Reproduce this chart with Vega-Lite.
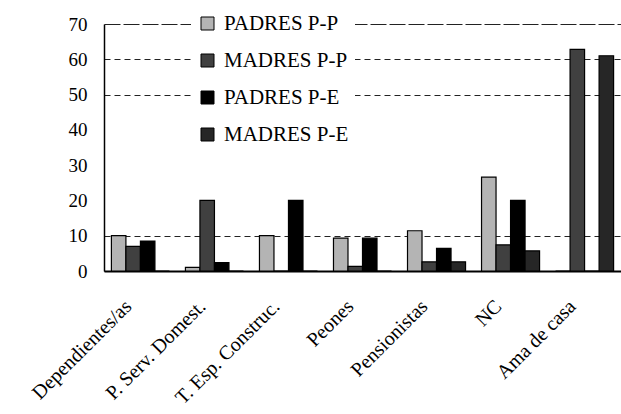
{
  "$schema": "https://vega.github.io/schema/vega-lite/v6.json",
  "width": 517,
  "height": 247,
  "autosize": {"type": "none"},
  "padding": {"left": 104, "top": 24, "right": 0, "bottom": 143},
  "background": "white",
  "config": {"view": {"stroke": null}, "font": "Liberation Serif"},
  "data": {
    "values": [
      {"cat": "Dependientes/as", "serie": "PADRES P-P", "v": 10},
      {"cat": "Dependientes/as", "serie": "MADRES P-P", "v": 7},
      {"cat": "Dependientes/as", "serie": "PADRES P-E", "v": 8.5},
      {"cat": "Dependientes/as", "serie": "MADRES P-E", "v": 0},
      {"cat": "P. Serv. Domest.", "serie": "PADRES P-P", "v": 1},
      {"cat": "P. Serv. Domest.", "serie": "MADRES P-P", "v": 20},
      {"cat": "P. Serv. Domest.", "serie": "PADRES P-E", "v": 2.4},
      {"cat": "P. Serv. Domest.", "serie": "MADRES P-E", "v": 0},
      {"cat": "T. Esp. Construc.", "serie": "PADRES P-P", "v": 10},
      {"cat": "T. Esp. Construc.", "serie": "MADRES P-P", "v": 0},
      {"cat": "T. Esp. Construc.", "serie": "PADRES P-E", "v": 20},
      {"cat": "T. Esp. Construc.", "serie": "MADRES P-E", "v": 0},
      {"cat": "Peones", "serie": "PADRES P-P", "v": 9.3},
      {"cat": "Peones", "serie": "MADRES P-P", "v": 1.3},
      {"cat": "Peones", "serie": "PADRES P-E", "v": 9.3},
      {"cat": "Peones", "serie": "MADRES P-E", "v": 0},
      {"cat": "Pensionistas", "serie": "PADRES P-P", "v": 11.4},
      {"cat": "Pensionistas", "serie": "MADRES P-P", "v": 2.6},
      {"cat": "Pensionistas", "serie": "PADRES P-E", "v": 6.4},
      {"cat": "Pensionistas", "serie": "MADRES P-E", "v": 2.6},
      {"cat": "NC", "serie": "PADRES P-P", "v": 26.6},
      {"cat": "NC", "serie": "MADRES P-P", "v": 7.4},
      {"cat": "NC", "serie": "PADRES P-E", "v": 20},
      {"cat": "NC", "serie": "MADRES P-E", "v": 5.7},
      {"cat": "Ama de casa", "serie": "PADRES P-P", "v": 0},
      {"cat": "Ama de casa", "serie": "MADRES P-P", "v": 62.8},
      {"cat": "Ama de casa", "serie": "PADRES P-E", "v": 0},
      {"cat": "Ama de casa", "serie": "MADRES P-E", "v": 61}
    ]
  },
  "mark": {"type": "bar", "stroke": "black", "strokeWidth": 1.2},
  "encoding": {
    "x": {
      "field": "cat",
      "type": "nominal",
      "sort": ["Dependientes/as", "P. Serv. Domest.", "T. Esp. Construc.", "Peones", "Pensionistas", "NC", "Ama de casa"],
      "scale": {"paddingInner": 0.216, "paddingOuter": 0.1},
      "axis": {
        "title": null,
        "labelAngle": -45,
        "labelAlign": "right",
        "labelBaseline": "middle",
        "labelFontSize": 20,
        "labelFont": "Liberation Serif",
        "labelColor": "black",
        "labelPadding": 32,
        "labelOffset": -12,
        "ticks": false,
        "tickSize": 0,
        "domainColor": "black",
        "domainWidth": 2,
        "labelLimit": 0
      }
    },
    "xOffset": {
      "field": "serie",
      "type": "nominal",
      "sort": ["PADRES P-P", "MADRES P-P", "PADRES P-E", "MADRES P-E"],
      "scale": {"paddingInner": 0, "paddingOuter": 0}
    },
    "y": {
      "field": "v",
      "type": "quantitative",
      "scale": {"domain": [0, 70], "nice": false},
      "axis": {
        "title": null,
        "values": [0, 10, 20, 30, 40, 50, 60, 70],
        "ticks": false,
        "tickSize": 0,
        "labelPadding": 17,
        "labelFontSize": 19,
        "labelFont": "Liberation Serif",
        "labelColor": "black",
        "domainColor": "black",
        "domainWidth": 1.5,
        "grid": true,
        "gridColor": "#222222",
        "gridDash": {"condition": {"test": "datum.value == 70", "value": [16, 3]}, "value": [6, 4]},
        "gridOpacity": {"condition": {"test": "datum.value >= 20 && datum.value <= 40", "value": 0}, "value": 1}
      }
    },
    "color": {
      "field": "serie",
      "type": "nominal",
      "sort": ["PADRES P-P", "MADRES P-P", "PADRES P-E", "MADRES P-E"],
      "scale": {
        "domain": ["PADRES P-P", "MADRES P-P", "PADRES P-E", "MADRES P-E"],
        "range": ["#b4b4b4", "#404040", "#000000", "#262626"]
      },
      "legend": {
        "title": null,
        "orient": "none",
        "legendX": 87,
        "legendY": -17,
        "fillColor": "white",
        "padding": 6,
        "symbolType": "square",
        "symbolSize": 169,
        "symbolStrokeColor": "black",
        "symbolStrokeWidth": 1,
        "labelFontSize": 21,
        "labelFont": "Liberation Serif",
        "labelColor": "black",
        "labelOffset": 6,
        "rowPadding": 15,
        "labelLimit": 0
      }
    }
  }
}
